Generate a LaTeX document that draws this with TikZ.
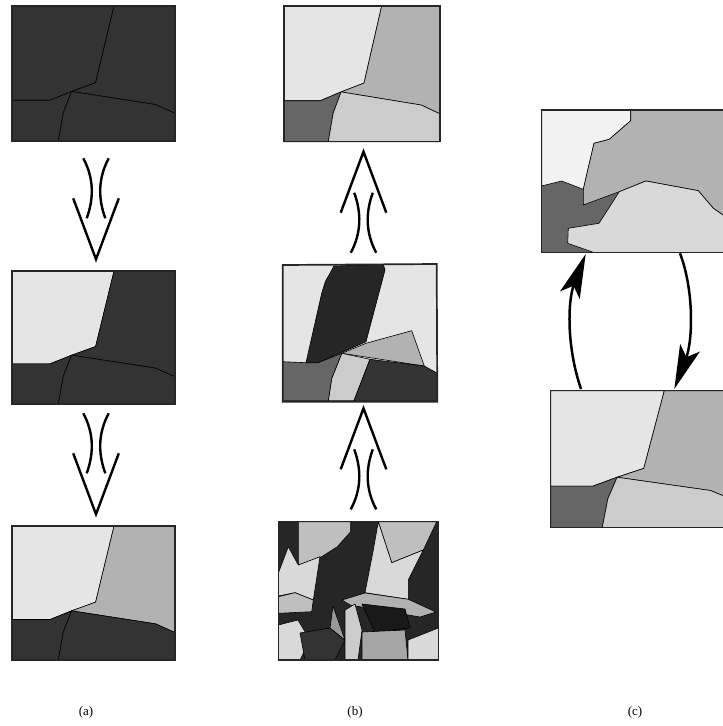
\documentclass[tikz,border=0pt]{standalone}
\usepackage{fontspec}
\setmainfont{Liberation Serif}
\usetikzlibrary{arrows.meta}
\definecolor{cdark}{gray}{0.2}
\definecolor{cblack}{gray}{0.15}
\definecolor{clight}{gray}{0.9}
\definecolor{cmid}{gray}{0.7}
\definecolor{clgray}{gray}{0.8}
\definecolor{cdgray}{gray}{0.4}
\definecolor{cvlight}{gray}{0.95}
\definecolor{cpale}{gray}{0.85}
\definecolor{csilver}{gray}{0.75}
\tikzset{
  region/.style={draw=black, line width=0.6pt, line join=round},
  frame/.style={draw=black!85, line width=1.5pt},
  arrowline/.style={line width=2.4pt},
  bigarrow/.style={line width=2.5pt, -{Stealth[length=44pt,width=21pt,inset=10pt]}},
  lbl/.style={font=\fontsize{13}{15}\selectfont, inner sep=0pt},
  dbl/.pic={
    \draw[arrowline] (-12.7,0) .. controls (-2,20) and (-2,40) .. (-9.3,60);
    \draw[arrowline] (12.7,0) .. controls (2,20) and (2,40) .. (9.3,60);
    \draw[arrowline] (-22.8,40) -- (0,101) -- (22.8,40);
  }
}
% x0, y0, W, H, colour A, B, C, D
\newcommand{\grainbox}[8]{%
\begin{scope}[shift={(#1,#2)},xscale=#3,yscale=#4]
\filldraw[region,fill=#5] (0,0) -- (0.626,0) -- (0.513,0.568) -- (0.366,0.633) -- (0.233,0.698) -- (0,0.698) -- cycle;
\filldraw[region,fill=#6] (0.626,0) -- (1,0) -- (1,0.795) -- (0.88,0.73) -- (0.366,0.633) -- (0.513,0.568) -- cycle;
\filldraw[region,fill=#7] (0,0.698) -- (0.233,0.698) -- (0.366,0.633) -- (0.315,0.79) -- (0.284,1) -- (0,1) -- cycle;
\filldraw[region,fill=#8] (0.366,0.633) -- (0.88,0.73) -- (1,0.795) -- (1,1) -- (0.284,1) -- (0.315,0.79) -- cycle;
\draw[frame] (0,0) rectangle (1,1);
\end{scope}}
\begin{document}
\begin{tikzpicture}[x=1pt,y=-1pt]
\clip (0,0) rectangle (723,726);
\fill[white] (0,0) rectangle (723,726);

% ---------- column (a) ----------
\grainbox{12}{6}{163}{135}{cdark}{cdark}{cdark}{cdark}
\grainbox{12}{271}{163}{133}{clight}{cdark}{cdark}{cdark}
\grainbox{12}{526}{163}{134}{clight}{cmid}{cdark}{cdark}
\coordinate (a1) at (96,158.3);
\coordinate (a2) at (96,413.3);
\pic at (a1) {dbl};
\pic at (a2) {dbl};

% ---------- column (b) ----------
\grainbox{284}{6}{156}{135.7}{clight}{cmid}{cdgray}{clgray}
\coordinate (b1) at (363.5,252.7);
\coordinate (b2) at (363.5,509.3);
\pic[yscale=-1] at (b1) {dbl};
\pic[yscale=-1] at (b2) {dbl};

% middle mosaic of (b)
\fill[clight] (282.7,265) -- (436.7,264) -- (437.3,401.7) -- (282.7,401.7) -- cycle;
\filldraw[region,fill=cblack] (334,266) -- (383.3,264.3) -- (385,270) -- (366,341.7) -- (318.3,362.7) -- (306,362.7) -- (321.7,293.3) -- (325.3,281.7) -- cycle;
\filldraw[region,fill=cmid] (341.7,353.3) -- (366,343.3) -- (411.7,330.7) -- (424.3,366) -- cycle;
\filldraw[region,fill=clgray] (341.7,353.3) -- (370,359.3) -- (354,400.7) -- (328.3,400.7) -- (331.7,378.3) -- (336.7,366) -- cycle;
\filldraw[region,fill=cdgray] (282.7,361.7) -- (306,362.7) -- (318.3,362.7) -- (341.7,353.3) -- (336.7,366) -- (331.7,378.3) -- (328.3,400.7) -- (282.7,400.7) -- cycle;
\filldraw[region,fill=cdark] (370,359.3) -- (424.3,366) -- (437.3,373.3) -- (437.3,400.7) -- (354,400.7) -- cycle;
\draw[frame, line width=1.7pt] (282.7,265) -- (436.7,264) -- (437.3,401.7) -- (282.7,401.7) -- cycle;

% bottom mosaic of (b)
\fill[cblack] (278.3,521.7) rectangle (438.3,660);
\filldraw[region,fill=csilver] (298.3,521.7) -- (350.7,521.7) -- (350.7,531.7) -- (337.3,546.7) -- (321.7,556.7) -- (298.3,565) -- cycle;
\filldraw[region,fill=csilver] (378.3,521.7) -- (436.7,521.7) -- (423.3,550) -- (391.7,562.7) -- cycle;
\filldraw[region,fill=cpale] (278.3,573.3) -- (288.3,546.7) -- (298.3,565) -- (320,556.7) -- (313.3,600) -- (295,592.7) -- (278.3,596) -- cycle;
\filldraw[region,fill=cpale] (378.3,521.7) -- (391.7,562.7) -- (423.3,550) -- (408.3,580) -- (408.3,599.3) -- (365,592.7) -- (373.3,550) -- cycle;
\filldraw[region,fill=csilver] (278.3,596.7) -- (295,592.7) -- (313.3,600) -- (311.7,611.7) -- (278.3,613.3) -- cycle;
\filldraw[region,fill=cmid] (342,600) -- (365,593) -- (408.3,599.3) -- (436,612) -- (420,617) -- (350,605) -- cycle;
\filldraw[region,fill=cpale] (278.3,625) -- (298,620) -- (310,640) -- (300,660) -- (278.3,660) -- cycle;
\filldraw[region,fill=cdark] (300,633) -- (330,628) -- (345,640) -- (335,660) -- (305,660) -- cycle;
\filldraw[region,fill=gray!80] (333,606) -- (345,640) -- (330,628) -- cycle;
\filldraw[region,fill=clgray] (345,610) -- (355,604) -- (362,630) -- (358,660) -- (345,660) -- (345,640) -- cycle;
\filldraw[region,fill=black!90] (362,604) -- (405,609) -- (410,628) -- (375,632) -- cycle;
\filldraw[region,fill=gray!70] (362,632) -- (405,630) -- (408,660) -- (362,660) -- cycle;
\filldraw[region,fill=cpale] (408,640) -- (438.3,628) -- (438.3,660) -- (408,660) -- cycle;
\draw[frame] (278.3,521.7) rectangle (438.3,660);

% ---------- column (c) ----------
\fill[cdgray] (541.7,110) rectangle (730,252.3);
\filldraw[region,fill=cvlight] (541.7,110) -- (630.7,110) -- (630.7,120.7) -- (609.3,139.3) -- (594,143.3) -- (583.3,189.3) -- (561.7,181) -- (541.7,186) -- cycle;
\filldraw[region,fill=cmid] (630.7,110) -- (730,110) -- (730,218) -- (723,215) -- (713.3,208.3) -- (698.3,190.7) -- (646,181) -- (619.3,191.7) -- (583.3,205) -- (583.3,189.3) -- (594,143.3) -- (609.3,139.3) -- (630.7,120.7) -- cycle;
\filldraw[region,fill=cpale] (619.3,191.7) -- (646,181) -- (698.3,190.7) -- (713.3,208.3) -- (723,215) -- (730,218) -- (730,252.3) -- (593.3,252.3) -- (567.7,243.3) -- (568.3,228.3) -- (599,223.3) -- cycle;
\draw[frame] (541.7,110) rectangle (730,252.3);

\grainbox{550.7}{390.7}{181.5}{136.7}{clight}{cmid}{cdgray}{clgray}

\coordinate (ctopL) at (585.7,254);
\coordinate (cbotL) at (581,389);
\coordinate (ctopR) at (680,253.3);
\coordinate (cbotR) at (674.3,389);
\draw[bigarrow] (cbotL) .. controls (566,345) and (568,300) .. (ctopL);
\draw[bigarrow] (ctopR) .. controls (694,290) and (693,340) .. (cbotR);

% ---------- labels ----------
\node[lbl] (la) at (86,712) {(a)};
\node[lbl] (lb) at (355,712) {(b)};
\node[lbl] (lc) at (635,712) {(c)};
\end{tikzpicture}
\end{document}
